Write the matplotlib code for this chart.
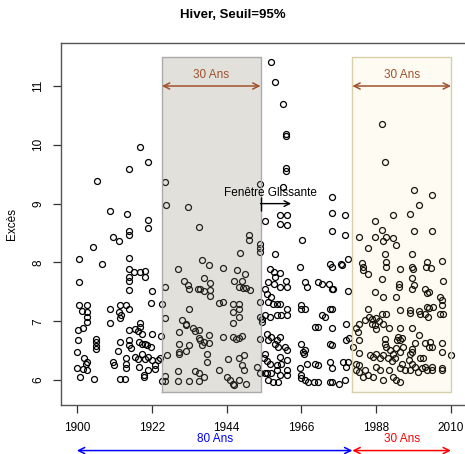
import matplotlib
matplotlib.use("Agg")
import matplotlib.pyplot as plt
import numpy as np

plt.rcParams['font.family'] = ['Liberation Sans', 'DejaVu Sans']

# Exces au-dessus du seuil (hiver), par periode : (annee, valeur)
p1900 = [
    (1915.4, 9.59), (1905.9, 9.38), (1909.8, 8.88), (1914.6, 8.82), (1915.4, 8.54), (1915.4, 8.46),
    (1910.7, 8.43), (1912.4, 8.36), (1904.6, 8.26), (1900.7, 8.05), (1907.5, 7.97), (1915.4, 8.07),
    (1915.4, 7.89), (1915.4, 7.75), (1915.4, 7.69), (1900.7, 7.66), (1915.4, 7.53), (1900.7, 7.28),
    (1902.9, 7.28), (1901.6, 7.17), (1902.9, 7.16), (1902.9, 7.07), (1902.9, 6.99), (1909.8, 7.21),
    (1912.7, 7.28), (1914.3, 7.28), (1912.3, 7.15), (1912.9, 7.10), (1912.7, 7.05), (1909.8, 6.97),
    (1915.4, 7.21), (1900.4, 6.85), (1901.7, 6.89), (1900.4, 6.68), (1905.6, 6.69), (1905.6, 6.64),
    (1905.6, 6.58), (1905.6, 6.53), (1912.7, 6.65), (1915.4, 6.85), (1915.4, 6.68), (1915.4, 6.59),
    (1900.0, 6.47), (1902.0, 6.37), (1902.9, 6.31), (1902.6, 6.27), (1912.0, 6.49), (1900.0, 6.20),
    (1901.7, 6.18), (1903.1, 6.17), (1901.0, 6.06), (1904.9, 6.01), (1910.5, 6.31), (1910.8, 6.25),
    (1912.7, 6.01), (1914.2, 6.01), (1914.5, 6.37), (1914.5, 6.28), (1914.5, 6.20),
]
p1916 = [
    (1918.7, 9.97), (1920.9, 9.70), (1925.9, 9.36), (1926.3, 8.98), (1932.7, 8.94), (1935.9, 8.60),
    (1921.0, 8.72), (1921.0, 8.59), (1916.8, 7.83), (1918.7, 7.83), (1920.0, 7.85), (1920.0, 7.75),
    (1922.0, 7.51), (1921.7, 7.31), (1924.9, 7.29), (1925.9, 7.58), (1929.7, 7.89), (1931.5, 7.68),
    (1932.7, 7.61), (1932.9, 7.55), (1935.7, 7.54), (1932.9, 7.20), (1925.9, 7.06), (1918.7, 6.97),
    (1918.7, 6.91), (1917.1, 6.86), (1918.0, 6.84), (1919.0, 6.79), (1922.0, 6.79), (1924.6, 6.75),
    (1918.2, 6.65), (1919.0, 6.62), (1920.0, 6.62), (1920.7, 6.59), (1921.7, 6.56), (1930.8, 7.02),
    (1932.0, 6.96), (1932.0, 6.93), (1930.0, 6.82), (1934.1, 6.89), (1934.7, 6.83), (1932.9, 6.59),
    (1930.0, 6.62), (1930.0, 6.48), (1930.0, 6.44), (1932.0, 6.50), (1926.6, 6.42), (1915.8, 6.55),
    (1917.1, 6.40), (1918.0, 6.35), (1919.0, 6.45), (1920.0, 6.35), (1921.0, 6.40), (1922.0, 6.34),
    (1922.9, 6.25), (1923.9, 6.34), (1924.3, 6.38), (1918.2, 6.23), (1921.0, 6.17), (1922.9, 6.18),
    (1919.7, 6.08), (1919.7, 6.06), (1925.9, 6.07), (1925.9, 5.99), (1925.1, 5.99), (1929.8, 6.16),
    (1929.8, 5.99), (1932.9, 5.99), (1934.7, 6.16), (1935.9, 6.71), (1935.9, 5.99),
]
p1936 = [
    (1953.7, 9.34), (1955.4, 8.71), (1950.5, 8.46), (1950.5, 8.38), (1953.7, 8.32), (1953.7, 8.25),
    (1953.7, 8.17), (1948.0, 8.16), (1936.8, 8.04), (1938.7, 7.95), (1943.1, 7.91), (1947.1, 7.87),
    (1949.5, 7.81), (1937.3, 7.74), (1939.0, 7.65), (1946.1, 7.68), (1948.5, 7.68), (1947.8, 7.58),
    (1948.8, 7.57), (1949.8, 7.57), (1950.8, 7.53), (1936.1, 7.55), (1937.3, 7.51), (1939.0, 7.53),
    (1939.2, 7.43), (1941.7, 7.31), (1943.0, 7.33), (1945.9, 7.30), (1947.8, 7.30), (1945.9, 7.16),
    (1947.8, 7.20), (1945.9, 6.97), (1947.8, 7.07), (1953.7, 7.33), (1955.4, 7.55), (1953.7, 7.08),
    (1954.4, 7.04), (1954.4, 6.99), (1955.4, 7.10), (1935.8, 6.85), (1936.3, 6.68), (1937.3, 6.65),
    (1938.7, 6.63), (1938.7, 6.77), (1936.8, 6.59), (1943.1, 6.73), (1945.9, 6.73), (1946.9, 6.69),
    (1947.8, 6.71), (1948.5, 6.75), (1953.7, 6.69), (1938.2, 6.44), (1938.2, 6.31), (1944.3, 6.35),
    (1947.8, 6.37), (1949.0, 6.42), (1948.5, 6.25), (1949.2, 6.17), (1952.9, 6.23), (1953.7, 6.12),
    (1955.4, 6.44), (1954.9, 6.37), (1955.4, 6.12), (1935.8, 6.12), (1937.3, 6.06), (1941.7, 6.17),
    (1944.1, 6.06), (1945.1, 6.00), (1945.9, 5.94), (1946.1, 5.92), (1947.8, 6.00), (1949.8, 5.94),
]
p1955 = [
    (1957.1, 11.40), (1958.4, 11.06), (1960.7, 10.70), (1961.4, 10.18), (1961.4, 10.15), (1961.4, 9.60),
    (1961.4, 9.56), (1960.7, 9.29), (1974.9, 9.11), (1974.9, 8.84), (1974.9, 8.53), (1959.7, 8.80),
    (1961.7, 8.81), (1959.7, 8.65), (1961.7, 8.63), (1966.3, 8.38), (1958.4, 8.15), (1965.6, 7.93),
    (1974.4, 7.98), (1974.9, 7.92), (1956.8, 7.89), (1958.0, 7.83), (1958.2, 7.75), (1959.7, 7.82),
    (1956.3, 7.67), (1958.0, 7.64), (1959.7, 7.59), (1961.4, 7.69), (1961.7, 7.58), (1971.0, 7.67),
    (1972.0, 7.64), (1967.1, 7.67), (1967.8, 7.58), (1974.1, 7.64), (1974.9, 7.55), (1975.4, 7.55),
    (1955.8, 7.47), (1957.1, 7.41), (1956.3, 7.33), (1957.7, 7.30), (1958.7, 7.30), (1959.7, 7.30),
    (1961.7, 7.21), (1965.9, 7.27), (1967.1, 7.21), (1965.9, 7.20), (1972.0, 7.10), (1973.1, 7.07),
    (1974.4, 7.20), (1974.9, 7.21), (1956.8, 7.07), (1958.7, 7.10), (1960.0, 7.10), (1961.7, 7.10),
    (1970.0, 6.91), (1971.0, 6.91), (1974.9, 6.88), (1955.8, 6.79), (1957.1, 6.73), (1956.1, 6.68),
    (1958.7, 6.68), (1959.7, 6.73), (1958.2, 6.62), (1959.2, 6.56), (1961.2, 6.56), (1961.7, 6.51),
    (1965.9, 6.62), (1967.1, 6.51), (1974.4, 6.62), (1974.9, 6.59), (1955.8, 6.33), (1956.8, 6.27),
    (1959.7, 6.40), (1961.7, 6.34), (1960.0, 6.28), (1958.7, 6.25), (1966.6, 6.48), (1966.9, 6.44),
    (1967.8, 6.28), (1965.6, 6.20), (1971.0, 6.25), (1970.0, 6.28), (1974.4, 6.31), (1974.9, 6.20),
    (1955.8, 6.12), (1957.1, 6.12), (1958.7, 6.17), (1959.7, 6.08), (1956.3, 6.00), (1957.7, 5.97),
    (1959.2, 5.97), (1961.7, 6.17), (1961.7, 6.08), (1965.9, 6.08), (1965.9, 6.03), (1967.1, 6.00),
    (1968.0, 5.97), (1969.8, 5.97), (1971.0, 5.97), (1974.4, 5.97), (1974.9, 5.97),
]
p1977 = [
    (1989.8, 10.36), (1990.7, 9.71), (1978.7, 8.81), (1978.7, 8.47), (1987.8, 8.71), (1993.1, 8.80),
    (1989.8, 8.55), (1987.8, 8.44), (1990.8, 8.44), (1990.0, 8.37), (1983.1, 8.44), (1993.1, 8.42),
    (1993.9, 8.29), (1985.6, 8.25), (1990.5, 8.15), (1979.7, 8.06), (1977.7, 7.97), (1977.9, 7.95),
    (1983.9, 7.99), (1984.1, 7.93), (1984.1, 7.87), (1991.0, 8.01), (1991.0, 7.92), (1985.6, 7.80),
    (1994.9, 7.89), (1989.8, 7.72), (1979.7, 7.51), (1987.8, 7.50), (1990.0, 7.42), (1994.7, 7.63),
    (1994.7, 7.58), (1993.9, 7.42), (1985.6, 7.21), (1994.9, 7.19), (1979.2, 6.96), (1982.9, 6.96),
    (1984.6, 7.02), (1985.9, 7.07), (1986.9, 7.03), (1988.0, 7.05), (1989.8, 7.12), (1990.8, 7.12),
    (1986.9, 6.96), (1987.8, 6.93), (1988.8, 7.01), (1990.0, 6.96), (1982.0, 6.89), (1982.6, 6.82),
    (1988.0, 6.86), (1991.9, 6.88), (1994.9, 6.89), (1980.0, 6.71), (1979.0, 6.68), (1982.9, 6.68),
    (1990.5, 6.69), (1990.5, 6.62), (1990.8, 6.56), (1994.4, 6.73), (1994.1, 6.68), (1994.9, 6.68),
    (1981.2, 6.56), (1982.9, 6.46), (1986.1, 6.42), (1987.1, 6.40), (1988.0, 6.45), (1989.0, 6.37),
    (1990.0, 6.42), (1992.1, 6.51), (1992.9, 6.45), (1993.9, 6.54), (1991.5, 6.37), (1992.7, 6.33),
    (1993.4, 6.38), (1978.2, 6.31), (1979.7, 6.31), (1979.0, 6.23), (1982.2, 6.28), (1983.1, 6.25),
    (1988.0, 6.23), (1989.0, 6.17), (1982.0, 6.17), (1983.1, 6.14), (1984.6, 6.17), (1991.8, 6.17),
    (1994.9, 6.20), (1984.1, 6.06), (1985.6, 6.08), (1987.1, 6.06), (1990.0, 6.00), (1992.9, 6.06),
    (1993.9, 6.00), (1994.9, 5.97), (1977.1, 5.93), (1978.7, 6.00),
]
p1995 = [
    (1999.1, 9.23), (2004.3, 9.15), (2000.7, 8.98), (1998.1, 8.82), (1999.1, 8.53), (2004.3, 8.54),
    (1998.4, 8.15), (2003.0, 8.01), (2004.0, 7.91), (2002.6, 7.92), (2007.3, 8.03), (1998.4, 7.92),
    (1998.7, 7.89), (1998.4, 7.74), (2007.6, 7.68), (2002.4, 7.55), (2003.4, 7.50), (2002.9, 7.48),
    (1999.1, 7.61), (1998.4, 7.54), (2006.8, 7.41), (2007.3, 7.36), (1997.9, 7.19), (1998.1, 7.14),
    (2000.9, 7.13), (2000.7, 7.17), (2002.9, 7.24), (2003.6, 7.23), (2004.6, 7.24), (2002.4, 7.13),
    (2003.1, 7.08), (2006.8, 7.13), (2007.7, 7.13), (2007.3, 7.27), (1998.4, 6.88), (2000.7, 6.76),
    (1995.5, 6.71), (1995.8, 6.56), (1995.0, 6.48), (1999.4, 6.63), (1998.4, 6.52), (1998.4, 6.48),
    (2002.4, 6.63), (2003.8, 6.65), (2004.3, 6.56), (2003.4, 6.56), (2007.3, 6.63), (2007.3, 6.48),
    (2009.9, 6.42), (1997.9, 6.45), (1997.7, 6.34), (1998.4, 6.28), (2000.9, 6.37), (2001.9, 6.38),
    (1995.5, 6.28), (1996.5, 6.17), (1997.9, 6.17), (1999.4, 6.23), (2000.4, 6.14), (2001.4, 6.20),
    (2002.4, 6.23), (2002.9, 6.17), (2004.3, 6.23), (2004.3, 6.17), (2007.3, 6.20), (2007.3, 6.17),
]

# fenetres de 30 ans et periodes de reference
fenetre_debut, fenetre_fin = 1925, 1954
recent_debut, recent_fin = 1981, 2010
ref_debut = 1900
x_ticks = [1900, 1922, 1944, 1966, 1988, 2010]
y_ticks = [6, 7, 8, 9, 10, 11]

pts = np.array(p1900 + p1916 + p1936 + p1955 + p1977 + p1995)
annees, exces = pts[:, 0], pts[:, 1]

fig = plt.figure(figsize=(4.65, 4.54), dpi=100)
ax = fig.add_axes([0.131, 0.108, 0.871, 0.797])

ax.plot(annees, exces, 'o', mfc='none', mec='black', ms=4.3, mew=0.9, zorder=2)

# fenetre glissante (gris) et fenetre recente (jaune), dessinees par-dessus les points
y_bas, y_haut = 5.80, 11.49
ax.fill_between([fenetre_debut, fenetre_fin], y_bas, y_haut, facecolor=(0.545, 0.53, 0.45, 0.25),
                edgecolor='none', zorder=3)
ax.plot([fenetre_debut, fenetre_fin, fenetre_fin, fenetre_debut, fenetre_debut],
        [y_bas, y_bas, y_haut, y_haut, y_bas], color='#aaaaaa', lw=1, zorder=4)
ax.fill_between([recent_debut, recent_fin], y_bas, y_haut, facecolor=(0.94, 0.86, 0.5, 0.1),
                edgecolor='none', zorder=3)
ax.plot([recent_debut, recent_fin, recent_fin, recent_debut, recent_debut],
        [y_bas, y_bas, y_haut, y_haut, y_bas], color='#d8d0a8', lw=1, zorder=4)

brun = '#a0522d'
for a, b in [(fenetre_debut, fenetre_fin), (recent_debut, recent_fin)]:
    ax.annotate('', xy=(a, 11.0), xytext=(b, 11.0),
                arrowprops=dict(arrowstyle='<->', color=brun, lw=1.1, mutation_scale=11,
                                shrinkA=0, shrinkB=0), zorder=5)
    ax.text((a + b) / 2, 11.19, '30 Ans', color=brun, ha='center', va='center', fontsize=8.5, zorder=5)

ax.text(1956.9, 9.18, 'Fenêtre Glissante', ha='center', va='center', fontsize=8.5, zorder=6)
ax.annotate('', xy=(1963, 9.0), xytext=(fenetre_fin, 9.0),
            arrowprops=dict(arrowstyle='->', color='black', lw=1.0,
                            mutation_scale=10, shrinkA=0, shrinkB=0), zorder=6)
ax.vlines(fenetre_fin, 8.88, 9.11, color='black', lw=1.0, zorder=6)

# periodes sous l'axe des x
tr = ax.get_xaxis_transform()
ax.annotate('', xy=(ref_debut, -0.126), xytext=(recent_debut, -0.126), xycoords=tr, textcoords=tr,
            arrowprops=dict(arrowstyle='<->', color='blue', lw=1.1, mutation_scale=11,
                            shrinkA=0, shrinkB=0), annotation_clip=False)
ax.text((ref_debut + recent_debut) / 2, -0.095, '80 Ans', transform=tr, color='blue',
        ha='center', va='center', fontsize=8.5, clip_on=False)
ax.annotate('', xy=(recent_debut, -0.126), xytext=(recent_fin, -0.126), xycoords=tr, textcoords=tr,
            arrowprops=dict(arrowstyle='<->', color='red', lw=1.1, mutation_scale=11,
                            shrinkA=0, shrinkB=0), annotation_clip=False)
ax.text((recent_debut + recent_fin) / 2, -0.095, '30 Ans', transform=tr, color='red',
        ha='center', va='center', fontsize=8.5, clip_on=False)

ax.set_xlim(1895.3, 2014.4)
ax.set_ylim(5.576, 11.729)
ax.set_xticks(x_ticks)
ax.set_xticklabels([str(x) for x in x_ticks])
ax.set_yticks(y_ticks)
ax.set_yticklabels([str(y) for y in y_ticks], rotation=90, va='center')
ax.tick_params(axis='both', direction='out', length=6, width=0.9, labelsize=8.5, pad=6, color='#333333')
for s in ax.spines.values():
    s.set_color('#555555')
    s.set_linewidth(1.0)

ax.set_ylabel('Excès', fontsize=8.5, labelpad=10)
fig.text(0.5, 0.967, 'Hiver, Seuil=95%', ha='center', va='center', fontsize=9.5, fontweight='bold')

fig.savefig('out.png', dpi=100)
